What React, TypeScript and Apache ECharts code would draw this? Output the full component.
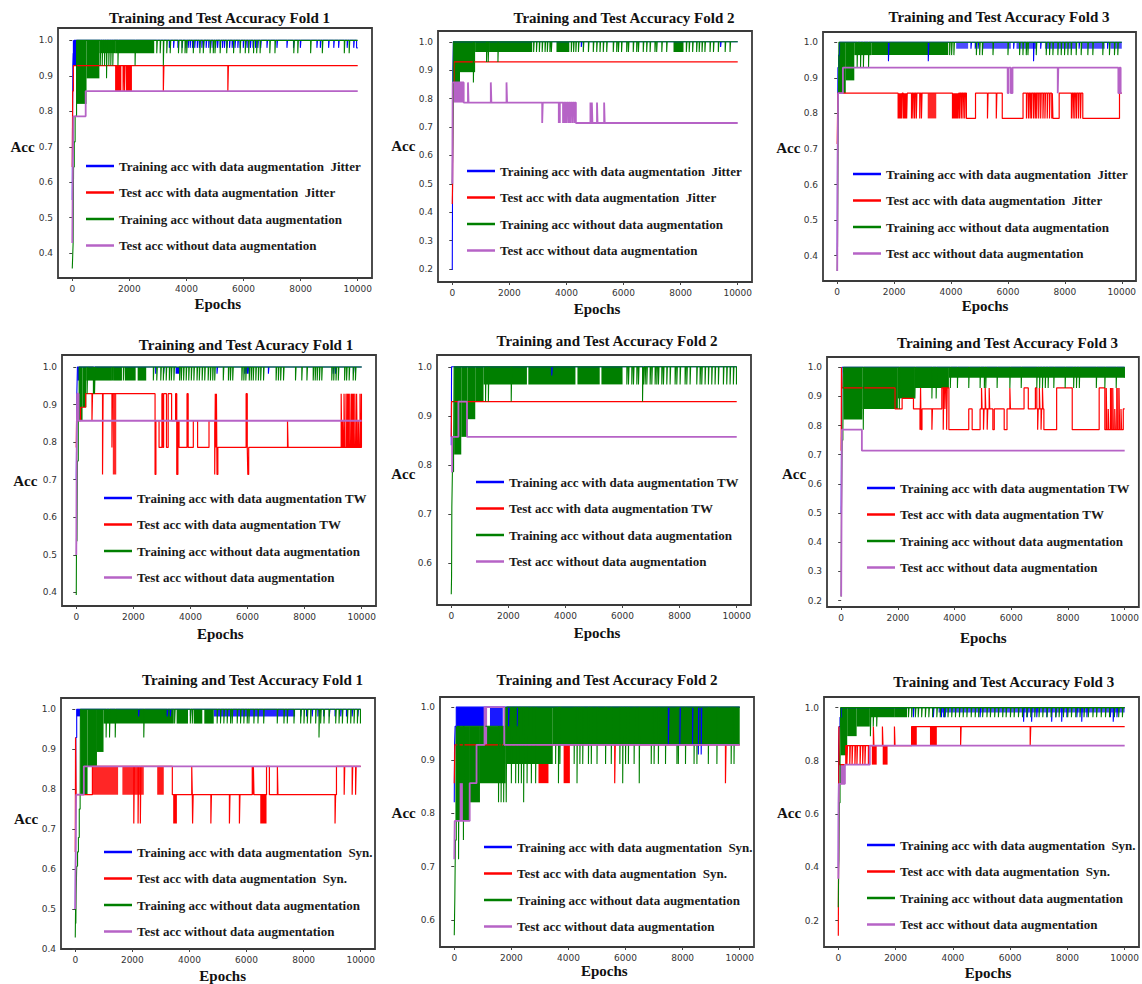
import React, { useEffect, useRef } from "react";
import * as echarts from "echarts";

type Pt = number[];

// ---------------- tick labels & titles ----------------
const X_TICKS = [0, 2000, 4000, 6000, 8000, 10000];
const Y_TICKS_A = [0.4, 0.5, 0.6, 0.7, 0.8, 0.9, 1.0];
const Y_TICKS_B = [0.2, 0.3, 0.4, 0.5, 0.6, 0.7, 0.8, 0.9, 1.0];
const Y_TICKS_C = [0.6, 0.7, 0.8, 0.9, 1.0];
const Y_TICKS_D = [0.2, 0.4, 0.6, 0.8, 1.0];
const Y_TICKS = [Y_TICKS_A, Y_TICKS_B, Y_TICKS_A, Y_TICKS_A, Y_TICKS_C, Y_TICKS_B, Y_TICKS_A, Y_TICKS_C, Y_TICKS_D];
const Y_RANGES = [
  [0.33, 1.035], [0.154, 1.038], [0.329, 1.029],
  [0.364, 1.032], [0.514, 1.024], [0.178, 1.035],
  [0.4, 1.028], [0.549, 1.019], [0.101, 1.04],
];
const X_RANGE = [-500, 10500];

const TITLES = [
  "Training and Test Accuracy Fold 1", "Training and Test Accuracy Fold 2", "Training and Test Accuracy Fold 3",
  "Training and Test Acuracy Fold 1", "Training and Test Accuracy Fold 2", "Training and Test Accuracy Fold 3",
  "Training and Test Accuracy Fold 1", "Training and Test Accuracy Fold 2", "Training and Test Accuracy Fold 3",
];
const X_NAME = "Epochs";
const Y_NAME = "Acc";
const AUG_SUFFIX = ["  Jitter", " TW", "  Syn."];
const LEGEND_BASE = [
  "Training acc with data augmentation",
  "Test acc with data augmentation",
  "Training acc without data augmentation",
  "Test acc without data augmentation",
];

// ---------------- data: steps [epoch, acc], spikes [epoch, acc], bands [x0, x1, lo, hi, density] ----------------
// Panel 1 (Jitter, Fold 1)
const p1BlueSteps = [[0, 0.55], [10, 0.786], [20, 0.929], [35, 0.964], [60, 1.0], [9960, 0.979]];
const p1BlueSpikes = [3400, 3550, 3700, 3850, 3980, 4060, 4130, 4210, 4290, 4380, 4450, 4540, 4600, 4690, 4780, 4850, 4930, 5020, 5090, 5180, 5260, 5330, 5420, 5510, 5600, 5700, 5800, 5880, 5990, 6080, 6150, 6240, 6330, 6420, 6500, 6600, 6820, 7170, 7520, 7750, 7990, 8570, 8690, 8980, 9160, 9330, 9630, 9860].map((x) => [x, 0.979]);
const p1BlueBands = [[20, 200, 0.929, 1.0, 1]];
const p1RedSteps = [[0, 0.643], [15, 0.857], [40, 0.929]];
const p1RedSpikes = [[1780, 0.857], [1830, 0.857], [3190, 0.857], [5450, 0.857]];
const p1RedBands = [[1500, 1720, 0.857, 0.929, 1], [1880, 2090, 0.857, 0.929, 1]];
const p1GreenSteps = [[0, 0.357], [15, 0.393], [30, 0.429], [45, 0.643], [70, 0.714], [100, 0.786], [150, 1.0]];
const p1GreenSpikes = [[980, 0.929], [1050, 0.929], [1130, 0.929], [1200, 0.893], [1280, 0.929], [1350, 0.929], [1420, 0.929], [1600, 0.929], [2200, 0.929], [2960, 0.964], [3080, 0.964], [3190, 0.929], [3310, 0.964], [3430, 0.964], [3720, 0.964], [3840, 0.964], [3950, 0.964], [4010, 0.964], [4240, 0.964], [4470, 0.964], [4590, 0.964], [4830, 0.964], [4940, 0.964], [5000, 0.964], [5180, 0.964], [5410, 0.964], [5650, 0.964], [5880, 0.964], [6060, 0.964], [6180, 0.964], [6350, 0.964], [6460, 0.964], [6580, 0.964], [6920, 0.964], [7100, 0.964], [7760, 0.964], [7900, 0.964], [8350, 0.964], [8760, 0.964], [9530, 0.964], [9700, 0.964]];
const p1GreenBands = [[150, 500, 0.821, 1, 1], [500, 950, 0.893, 1, 1], [950, 1500, 0.964, 1, 1], [1500, 2870, 0.964, 1, 1]];
const p1PurpleSteps = [[0, 0.429], [20, 0.643], [40, 0.786], [470, 0.857]];

// Panel 2 (Jitter, Fold 2)
const p2BlueSteps = [[0, 0.196], [10, 0.5], [20, 0.893], [40, 1.0]];
const p2BlueSpikes = [[4520, 0.982], [9400, 0.982]];
const p2RedSteps = [[0, 0.429], [10, 0.5], [25, 0.857], [60, 0.929]];
const p2GreenSteps = [[0, 0.5], [15, 0.643], [30, 0.786], [40, 1.0]];
const p2GreenSpikes = [[740, 0.857], [1200, 0.929], [1260, 0.929], [1600, 0.929], ...[2850, 2950, 3050, 3150, 3250, 3330, 3420, 3470, 4170, 4250, 4330, 4420, 4590, 4770, 4940, 5060, 5175, 5290, 5410, 5640, 5760, 5820, 5930, 6110, 6170, 6340, 6460, 6520, 6690, 6810, 6930, 7100, 7160, 7340, 7510, 8200, 8300, 8420, 8560, 8650, 8750, 8850, 9030, 9150, 9320, 9560, 9730].map((x) => [x, 0.964])];
const p2GreenBands = [[40, 270, 0.857, 1, 1], [270, 800, 0.893, 1, 1], [800, 1320, 0.964, 1, 1], [1320, 2800, 0.964, 1, 1], [3650, 4100, 0.964, 1, 1], [7750, 8100, 0.964, 1, 1]];
const p2PurpleSteps = [[0, 0.5], [15, 0.857], [400, 0.786], [4330, 0.714]];
const p2PurpleSpikes = [[550, 0.857], [1350, 0.857], [1900, 0.857], [3150, 0.714], [3880, 0.714], [3940, 0.714], [4000, 0.714], [4070, 0.714], [4130, 0.714], [4200, 0.714], [4270, 0.714], [4840, 0.786], [4890, 0.786], [5070, 0.786], [5320, 0.786]];
const p2PurpleBands = [[50, 400, 0.786, 0.857, 1], [3700, 3800, 0.714, 0.786, 1]];

// Panel 3 (Jitter, Fold 3)
const p3BlueSteps = [[0, 0.4], [10, 0.714], [25, 0.929], [50, 0.964], [80, 1.0]];
const p3BlueSpikes = [[1800, 0.947], [3200, 0.947], [6900, 0.947], [4700, 0.982], [4850, 0.982], [4950, 0.982], [6200, 0.982], [7150, 0.982], [8500, 0.982], [9500, 0.982]];
const p3BlueBands = [[4180, 4600, 0.982, 1, 0.7], [5100, 6100, 0.982, 1, 0.7], [6300, 7000, 0.982, 1, 0.7], [7300, 8400, 0.982, 1, 0.7], [8600, 9400, 0.982, 1, 0.7], [9600, 10000, 0.982, 1, 0.7]];
const p3RedSteps = [[0, 0.714], [20, 0.857], [4540, 0.786], [4860, 0.857], [5800, 0.786], [6530, 0.857], [7580, 0.786], [7800, 0.857], [8630, 0.786], [9920, 0.857]];
const p3RedSpikes = [2140, 2180, 2220, 2260, 2320, 2360, 2400, 2440, 2610, 2660, 2720, 2780, 2900, 2960, 4050, 4090, 4130, 4170, 4210, 4250, 4300, 4360, 4420, 4480, 5280, 5590, 6650, 6720, 6780, 6830, 6900, 6960, 7010, 7080, 7150, 7230, 7300, 7380, 7460, 7540, 8230, 8290, 8350, 8410, 8480, 8550].map((x) => [x, 0.786]);
const p3RedBands = [[3180, 3480, 0.786, 0.857, 0.85]];
const p3GreenSteps = [[0, 0.357], [10, 0.429], [25, 0.643], [40, 0.821], [60, 1.0]];
const p3GreenSpikes = [[700, 0.929], [820, 0.929], [920, 0.929], [1100, 0.929], ...[3950, 4020, 4100, 4890, 5006, 5100, 5474, 6000, 6409, 6526, 6643, 6702, 6994, 7345, 7462, 7579, 7754, 7871, 7988, 8105, 8222, 8398, 8573, 8807, 8982, 9333, 9567, 9743, 9860].map((x) => [x, 0.964])];
const p3GreenBands = [[60, 300, 0.857, 1, 1], [300, 600, 0.893, 1, 1], [600, 1200, 0.964, 1, 1], [1200, 3900, 0.964, 1, 1]];
const p3PurpleSteps = [[0, 0.357], [15, 0.643], [30, 0.857], [200, 0.929], [5990, 0.857], [6020, 0.929], [6100, 0.857], [6160, 0.929], [9880, 0.857], [9920, 0.929], [9960, 0.857]];
const p3PurpleSpikes = [[7750, 0.857]];

// Panel 4 (TW, Fold 1)
const p4BlueSteps = [[0, 0.7], [10, 0.786], [20, 0.929], [40, 1.0]];
const p4BlueSpikes = [2780, 3060, 3500, 3540, 3580, 4930, 5900, 5950, 6000, 6050, 6730, 9000, 9080, 9710].map((x) => [x, 0.982]);
const p4BlueBands = [[40, 120, 0.964, 1, 1]];
const p4RedSteps = [[0, 0.786], [10, 0.857], [150, 0.893], [330, 0.929], [2760, 0.714], [2790, 0.857], [2900, 0.786], [3000, 0.929], [3030, 0.786], [3060, 0.929], [3160, 0.786], [3220, 0.929], [3340, 0.857], [3480, 0.929], [3520, 0.714], [3560, 0.857], [3600, 0.786], [3880, 0.929], [3920, 0.786], [4100, 0.857], [4250, 0.786], [4650, 0.857], [4850, 0.714], [4870, 0.929], [4890, 0.786], [4910, 0.929], [4930, 0.714], [4960, 0.786], [5950, 0.929], [5990, 0.786], [6010, 0.714], [6040, 0.786], [7400, 0.857], [7420, 0.786], [9990, 0.929]];
const p4RedSpikes = [[550, 0.857], [920, 0.714], [1250, 0.786], [9280, 0.929], [9330, 0.857], [9380, 0.929], [9450, 0.929], [9520, 0.857], [9580, 0.929], [9640, 0.929], [9700, 0.857], [9760, 0.929], [9820, 0.929], [9880, 0.857], [9940, 0.929]];
const p4RedBands = [[1280, 1400, 0.714, 0.929, 0.85], [9470, 9560, 0.786, 0.929, 1], [9650, 9740, 0.786, 0.929, 1]];
const p4GreenSteps = [[0, 0.393], [10, 0.571], [25, 0.536], [40, 0.75], [70, 0.857], [100, 1.0]];
const p4GreenSpikes = [[380, 0.929], [600, 0.929], [640, 0.929], ...[1270, 1650, 2700, 2820, 2960, 3050, 3150, 3260, 3330, 3420, 3620, 3680, 3760, 3850, 3940, 4030, 4120, 4230, 4310, 4410, 4500, 4620, 4700, 4780, 4850, 5150, 5330, 5400, 5480, 5800, 5870, 5940, 6060, 6130, 6200, 6290, 6380, 6460, 6560, 7000, 7080, 7160, 7260, 7680, 7900, 8080, 8300, 8370, 8440, 8520, 8600, 8950, 9020, 9100, 9180, 9400, 9470, 9560, 9700, 9780].map((x) => [x, 0.964])];
const p4GreenBands = [[100, 220, 0.857, 1, 1], [220, 350, 0.893, 1, 1], [350, 650, 0.964, 1, 1], [650, 1250, 0.964, 1, 1], [1290, 1600, 0.964, 1, 1], [1700, 2080, 0.964, 1, 1], [2150, 2450, 0.964, 1, 1]];
const p4PurpleSteps = [[0, 0.5], [15, 0.786], [30, 0.929], [80, 0.857]];

// Panel 5 (TW, Fold 2)
const p5BlueSteps = [[0, 0.84], [10, 1.0]];
const p5BlueSpikes = [[3520, 0.982]];
const p5RedSteps = [[0, 0.857], [10, 0.929]];
const p5GreenSteps = [[0, 0.536], [10, 0.571], [20, 0.714], [40, 0.786], [80, 0.821], [100, 1.0], [9990, 0.964]];
const p5GreenSpikes = [[1200, 0.929], [1300, 0.929], [2100, 0.929], [6700, 0.929], ...[6150, 6208, 6324, 6383, 6500, 6558, 6733, 6791, 6850, 6966, 7025, 7141, 7200, 7258, 7375, 7433, 7550, 7666, 7841, 7900, 8016, 8191, 8250, 8366, 8600, 8716, 8775, 8891, 9008, 9125, 9241, 9358, 9533, 9650, 9767, 9883].map((x) => [x, 0.964])];
const p5GreenBands = [[100, 350, 0.821, 1, 1], [350, 570, 0.857, 1, 1], [570, 840, 0.893, 1, 1], [840, 1130, 0.929, 1, 1], [1130, 2650, 0.964, 1, 1], [2700, 4350, 0.964, 1, 1], [4420, 5200, 0.964, 1, 1], [5260, 6000, 0.964, 1, 1]];
const p5PurpleSteps = [[0, 0.786], [30, 0.857], [250, 0.929], [550, 0.857]];

// Panel 6 (TW, Fold 3)
const p6BlueSteps = [[0, 0.5], [10, 0.714], [25, 1.0]];
const p6BlueBands = [[60, 300, 0.982, 1, 1]];
const p6RedSteps = [[0, 0.714], [10, 1.0], [30, 0.929], [1900, 0.857], [2150, 0.893], [2550, 0.857], [2780, 0.786], [2850, 0.857], [3550, 0.929], [3800, 0.786], [4500, 0.857], [4620, 0.786], [4900, 0.857], [5350, 0.786], [5400, 0.857], [5750, 0.786], [5850, 0.857], [6450, 0.929], [6600, 0.857], [6850, 0.929], [6900, 0.857], [7150, 0.786], [7600, 0.929], [8150, 0.786], [9100, 0.929], [9300, 0.786], [9950, 0.857]];
const p6RedSpikes = [[2800, 0.929], [3200, 0.786], [5950, 0.929], [3600, 0.786], [3660, 0.857], [3720, 0.786], [4950, 0.929], [5020, 0.786], [5080, 0.929], [5150, 0.786], [5220, 0.929], [6930, 0.786], [6990, 0.929], [7050, 0.786], [7100, 0.929], [9350, 0.929], [9420, 0.857], [9500, 0.929], [9580, 0.929], [9650, 0.857], [9720, 0.929], [9800, 0.929], [9870, 0.857]];
const p6RedBands = [[9520, 9560, 0.786, 0.929, 1], [9740, 9780, 0.786, 0.929, 1]];
const p6GreenSteps = [[0, 0.214], [10, 0.5], [20, 0.607], [35, 0.75], [60, 0.786], [80, 1.0], [9990, 0.964]];
const p6GreenSpikes = [[780, 0.786], [2050, 0.857], [2600, 0.893], [3200, 0.893], [3350, 0.893], ...[3850, 4100, 4500, 4900, 5050, 5100, 5500, 5950, 6350, 6900, 7000, 7100, 7200, 7300, 7500, 7900, 8200, 8300, 8400, 9000, 9300, 9700].map((x) => [x, 0.929])];
const p6GreenBands = [[80, 750, 0.821, 1, 1], [750, 2000, 0.857, 1, 1], [2000, 2600, 0.893, 1, 1], [2600, 3800, 0.929, 1, 1], [3800, 10000, 0.964, 1, 1]];
const p6PurpleSteps = [[0, 0.214], [10, 0.429], [25, 0.786], [730, 0.714]];

// Panel 7 (Syn., Fold 1)
const p7BlueSteps = [[0, 0.5], [10, 0.643], [20, 0.929], [50, 1.0]];
const p7BlueSpikes = [2220, 3220, 3330, 4035, 7900, 8100, 8300, 8500, 8700, 8900, 9100, 9300, 9500, 9700, 9900].map((x) => [x, 0.982]);
const p7BlueBands = [[50, 200, 0.982, 1, 1], [4850, 7700, 0.982, 1, 0.85]];
const p7RedSteps = [[0, 0.643], [10, 0.929], [30, 0.786], [600, 0.857], [3400, 0.786], [6700, 0.857], [6800, 0.786], [9150, 0.857]];
const p7RedSpikes = [[2050, 0.714], [2200, 0.714], [2280, 0.714], [4080, 0.857], [4110, 0.714], [4750, 0.714], [5400, 0.714], [5750, 0.714], [6200, 0.857], [6240, 0.857], [7080, 0.857], [9100, 0.714], [9420, 0.786], [9700, 0.786], [9820, 0.786]];
const p7RedBands = [[600, 1500, 0.786, 0.857, 0.85], [1650, 2400, 0.786, 0.857, 0.85], [2870, 3100, 0.786, 0.857, 0.9], [3430, 3560, 0.714, 0.786, 1], [6480, 6700, 0.714, 0.786, 1]];
const p7GreenSteps = [[0, 0.429], [10, 0.5], [20, 0.464], [30, 0.536], [50, 0.607], [80, 0.643], [110, 0.679], [140, 0.75], [170, 0.786], [180, 1.0], [9990, 0.964]];
const p7GreenSpikes = [[1080, 0.929], [1200, 0.929], [1400, 0.929], [2400, 0.929], [8538, 0.929], ...[3480, 4030, 4100, 4970, 5088, 5205, 5322, 5439, 5497, 5673, 5790, 5906, 6023, 6082, 6257, 6400, 6600, 7076, 7310, 7427, 7661, 7895, 8012, 8129, 8246, 8421, 8596, 8713, 8889, 9123, 9240, 9357, 9532, 9649, 9766, 9883].map((x) => [x, 0.964])];
const p7GreenBands = [[180, 430, 0.786, 1, 1], [430, 760, 0.857, 1, 1], [760, 990, 0.893, 1, 1], [990, 1400, 0.964, 1, 1], [1400, 3450, 0.964, 1, 1], [3550, 3950, 0.964, 1, 1], [4150, 4450, 0.964, 1, 1], [4520, 4850, 0.964, 1, 1]];
const p7PurpleSteps = [[0, 0.5], [15, 0.643], [30, 0.786], [300, 0.857]];

// Panel 8 (Syn., Fold 2)
const p8BlueSteps = [[0, 0.821], [10, 0.929], [30, 0.964], [70, 1.0]];
const p8BlueSpikes = [[1900, 0.964], [2200, 0.964], [7500, 0.929], [7900, 0.929], [8350, 0.929], [8550, 0.911], [8650, 0.911]];
const p8BlueBands = [[70, 1050, 0.964, 1, 1], [1250, 1700, 0.964, 1, 0.9]];
const p8RedSteps = [[0, 0.857], [20, 0.929]];
const p8RedSpikes = [[5620, 0.857], [9500, 0.857]];
const p8RedBands = [[2950, 3300, 0.857, 0.929, 1], [3830, 4050, 0.857, 0.929, 1]];
const p8GreenSteps = [[0, 0.571], [10, 0.607], [20, 0.643], [40, 0.75], [70, 0.786], [100, 0.964], [1800, 1.0]];
const p8GreenSpikes = [[150, 0.714], [320, 0.75], [1550, 0.821], [1640, 0.821], [1730, 0.821], [1820, 0.821], [2000, 0.857], [2150, 0.857], [2250, 0.857], [2350, 0.857], [2430, 0.821], [2550, 0.857], [2700, 0.857], [2850, 0.857], [3550, 0.893], [3650, 0.857], [3700, 0.893], [4200, 0.893], [4300, 0.857], [4400, 0.893], [4500, 0.893], [4700, 0.893], [4800, 0.893], [5000, 0.893], [5300, 0.893], [5500, 0.893], [5800, 0.893], [5900, 0.857], [6000, 0.893], [6100, 0.893], [6300, 0.893], [6480, 0.857], [6900, 0.893], [7000, 0.893], [7150, 0.893], [7400, 0.893], [7800, 0.893], [7850, 0.893], [8100, 0.893], [8400, 0.893], [8500, 0.893], [8900, 0.893], [9200, 0.893], [9700, 0.893], [9800, 0.893]];
const p8GreenBands = [[40, 550, 0.786, 0.964, 1], [550, 900, 0.821, 0.964, 1], [900, 1800, 0.857, 0.964, 1], [1800, 3450, 0.893, 1, 1], [3450, 10000, 0.929, 1, 1]];
const p8PurpleSteps = [[0, 0.714], [15, 0.786], [540, 0.857], [780, 0.929], [1060, 1.0], [1750, 0.929]];
const p8PurpleBands = [[180, 330, 0.786, 0.857, 1], [1050, 1150, 0.929, 1.0, 1]];

// Panel 9 (Syn., Fold 3)
const p9BlueSteps = [[0, 0.4], [10, 0.857], [30, 0.929], [60, 0.964], [100, 1.0]];
const p9BlueSpikes = [[2620, 0.964], [3320, 0.964], [3600, 0.964], [3680, 0.964], [3730, 0.964], [4950, 0.964], [6470, 0.947], [6600, 0.964], [6750, 0.947], [6930, 0.964], [7280, 0.964], [7450, 0.947], [7600, 0.964], [7800, 0.947], [7980, 0.964], [8330, 0.964], [8500, 0.947], [8680, 0.964], [9500, 0.964], [9600, 0.947], [9730, 0.964]];
const p9BlueBands = [[3500, 10000, 0.982, 1, 0.7]];
const p9RedSteps = [[0, 0.143], [10, 0.5], [20, 0.929], [40, 0.786], [260, 0.857], [2560, 0.929]];
const p9RedSpikes = [[300, 0.786], [400, 0.786], [480, 0.786], [580, 0.786], [650, 0.786], [760, 0.786], [850, 0.786], [930, 0.786], [1050, 0.786], [1224, 0.929], [1540, 0.929], [1960, 0.929], [4270, 0.857], [6700, 0.857]];
const p9RedBands = [[1170, 1340, 0.786, 0.857, 1], [1550, 1720, 0.786, 0.857, 1], [2560, 2740, 0.857, 0.929, 1], [3200, 3440, 0.857, 0.929, 1]];
const p9GreenSteps = [[0, 0.25], [10, 0.393], [20, 0.429], [35, 0.643], [60, 0.786], [80, 1.0]];
const p9GreenSpikes = [[1120, 0.893], [1220, 0.929], [1340, 0.929], ...[2450, 2560, 2690, 2790, 2910, 3040, 3160, 3290, 3440, 3560, 3710, 3830, 3960, 4090, 4230, 4360, 4490, 4640, 4780, 4900, 5040, 5190, 5310, 5460, 5590, 5740, 5860, 6010, 6140, 6290, 6430, 6580, 6720, 6860, 7010, 7140, 7290, 7430, 7590, 7710, 7860, 8010, 8140, 8290, 8440, 8580, 8730, 8890, 9020, 9180, 9330, 9470, 9640, 9790, 9920].map((x) => [x, 0.964])];
const p9GreenBands = [[80, 310, 0.821, 1, 1], [310, 640, 0.893, 1, 1], [640, 1100, 0.929, 1, 1], [1100, 1950, 0.964, 1, 1], [1950, 2400, 0.964, 1, 1]];
const p9PurpleSteps = [[0, 0.357], [10, 0.643], [20, 0.714], [230, 0.786], [1100, 0.857]];
const p9PurpleBands = [[60, 230, 0.714, 0.786, 1]];

// [steps, spikes, bands] per series (blue, red, green, purple) per panel
const PANELS: Pt[][][][] = [
  [[p1BlueSteps, p1BlueSpikes, p1BlueBands], [p1RedSteps, p1RedSpikes, p1RedBands], [p1GreenSteps, p1GreenSpikes, p1GreenBands], [p1PurpleSteps, [], []]],
  [[p2BlueSteps, p2BlueSpikes, []], [p2RedSteps, [], []], [p2GreenSteps, p2GreenSpikes, p2GreenBands], [p2PurpleSteps, p2PurpleSpikes, p2PurpleBands]],
  [[p3BlueSteps, p3BlueSpikes, p3BlueBands], [p3RedSteps, p3RedSpikes, p3RedBands], [p3GreenSteps, p3GreenSpikes, p3GreenBands], [p3PurpleSteps, p3PurpleSpikes, []]],
  [[p4BlueSteps, p4BlueSpikes, p4BlueBands], [p4RedSteps, p4RedSpikes, p4RedBands], [p4GreenSteps, p4GreenSpikes, p4GreenBands], [p4PurpleSteps, [], []]],
  [[p5BlueSteps, p5BlueSpikes, []], [p5RedSteps, [], []], [p5GreenSteps, p5GreenSpikes, p5GreenBands], [p5PurpleSteps, [], []]],
  [[p6BlueSteps, [], p6BlueBands], [p6RedSteps, p6RedSpikes, p6RedBands], [p6GreenSteps, p6GreenSpikes, p6GreenBands], [p6PurpleSteps, [], []]],
  [[p7BlueSteps, p7BlueSpikes, p7BlueBands], [p7RedSteps, p7RedSpikes, p7RedBands], [p7GreenSteps, p7GreenSpikes, p7GreenBands], [p7PurpleSteps, [], []]],
  [[p8BlueSteps, p8BlueSpikes, p8BlueBands], [p8RedSteps, p8RedSpikes, p8RedBands], [p8GreenSteps, p8GreenSpikes, p8GreenBands], [p8PurpleSteps, [], p8PurpleBands]],
  [[p9BlueSteps, p9BlueSpikes, p9BlueBands], [p9RedSteps, p9RedSpikes, p9RedBands], [p9GreenSteps, p9GreenSpikes, p9GreenBands], [p9PurpleSteps, [], p9PurpleBands]],
];

// ---------------- layout & style ----------------
const GRID_BOXES = [
  [58, 28, 314, 250], [438, 31, 314, 251], [823, 32, 313, 249],
  [62, 355, 314, 251], [437, 355, 314, 250], [827, 357, 313, 250],
  [61, 698, 314, 251], [440, 697, 314, 250], [824, 697, 315, 250],
];
const LEGEND_POS = [
  [86, 159.5], [467, 164.5], [853, 167.5],
  [104, 491.5], [476, 475.5], [867, 481.5],
  [104, 845.5], [484, 840.5], [867, 838.5],
];
const TITLE_POS = [[219.5, 18.3], [624, 18], [999, 16.7], [246, 345], [607, 340.7], [1007.5, 342.7], [252.5, 680], [607, 680], [1003.7, 682.3]];
const YNAME_POS = [[22.5, 146.7], [403.3, 146], [788.3, 147.5], [25.3, 480.7], [403.3, 474], [794, 474], [26, 819], [403.7, 813], [789, 813]];
const XNAME_POS = [[217.8, 304], [597, 309], [985, 305.8], [220.3, 634], [597, 633], [983.3, 637.8], [222.7, 975.8], [604.3, 970.8], [988, 972.5]];
const SERIES_COLORS = ["#0000ff", "#ff0000", "#007f00", "#b663c6"];
const SERIES_WIDTHS = [1.1, 1.2, 1.1, 1.8];
const SERIF = "'Liberation Serif', 'Times New Roman', serif";
const SPIKE_W = 20;

function buildLine(steps: Pt[], spikes: Pt[]) {
  const levelAt = (x: number) => {
    let v = steps[0][1];
    for (const s of steps) if (s[0] <= x) v = s[1];
    return v;
  };
  const pts: Pt[] = steps.map((p) => [p[0], p[1]]);
  for (const [x, y] of spikes) {
    pts.push([x, y]);
    pts.push([x + SPIKE_W, levelAt(x)]);
  }
  pts.sort((a, b) => a[0] - b[0]);
  if (pts[pts.length - 1][0] < 10000) pts.push([10000, levelAt(10000)]);
  return pts;
}

function bandSeries(i: number, s: number, bands: Pt[]) {
  const color = SERIES_COLORS[s];
  return {
    type: "custom",
    name: `band-${i}-${s}`,
    xAxisIndex: i,
    yAxisIndex: i,
    silent: true,
    data: bands,
    encode: { x: [0, 1], y: [2, 3] },
    renderItem: (_params: any, api: any) => {
      const a = api.coord([api.value(0), api.value(3)]);
      const b = api.coord([api.value(1), api.value(2)]);
      return {
        type: "rect",
        shape: { x: a[0], y: a[1], width: b[0] - a[0], height: b[1] - a[1] },
        style: { fill: color, opacity: api.value(4) },
      };
    },
  };
}

function buildOption() {
  const grid: any[] = [];
  const xAxis: any[] = [];
  const yAxis: any[] = [];
  const series: any[] = [];
  const legend: any[] = [];
  const graphic: any[] = [];

  for (let i = 0; i < 9; i++) {
    const row = Math.floor(i / 3);
    const [left, top, width, height] = GRID_BOXES[i];
    grid.push({ left, top, width, height, show: true, borderColor: "#3a3a3a", borderWidth: 1.8, backgroundColor: "transparent" });
    const labelStyle = { fontSize: 9, color: "#333", fontFamily: "'DejaVu Sans', sans-serif" };
    xAxis.push({
      type: "value", gridIndex: i, min: X_RANGE[0], max: X_RANGE[1],
      axisLine: { show: false }, splitLine: { show: false },
      axisTick: { show: true, length: 3, lineStyle: { color: "#444" }, customValues: X_TICKS },
      axisLabel: { ...labelStyle, margin: 6, customValues: X_TICKS, formatter: (v: number) => String(Math.round(v)) },
    });
    yAxis.push({
      type: "value", gridIndex: i, min: Y_RANGES[i][0], max: Y_RANGES[i][1],
      axisLine: { show: false }, splitLine: { show: false },
      axisTick: { show: true, length: 3, lineStyle: { color: "#444" }, customValues: Y_TICKS[i] },
      axisLabel: { ...labelStyle, margin: 5, customValues: Y_TICKS[i], formatter: (v: number) => v.toFixed(1) },
    });

    const names = LEGEND_BASE.map((b, k) => (k < 2 ? b + AUG_SUFFIX[row] : b));
    for (let s = 0; s < 4; s++) {
      const [steps, spikes, bands] = PANELS[i][s];
      const line = {
        type: "line", name: names[s], xAxisIndex: i, yAxisIndex: i,
        data: buildLine(steps, spikes), step: "end", symbol: "none", showSymbol: false,
        lineStyle: { width: SERIES_WIDTHS[s], color: SERIES_COLORS[s] },
        itemStyle: { color: SERIES_COLORS[s] }, silent: true,
      };
      const hasBands = bands && bands.length > 0;
      if (s === 2 && hasBands) series.push(bandSeries(i, s, bands));
      series.push(line);
      if (s !== 2 && hasBands) series.push(bandSeries(i, s, bands));
    }

    legend.push({
      data: names, orient: "vertical", left: LEGEND_POS[i][0], top: LEGEND_POS[i][1],
      padding: 0, itemGap: 13.5, itemWidth: 28, itemHeight: 2.5, icon: "rect", selectedMode: false,
      textStyle: { fontFamily: SERIF, fontWeight: "bold", fontSize: 13, color: "#1a1a1a" },
    });

    const textEl = (pos: number[], text: string, size: number) => ({
      type: "text", x: pos[0], y: pos[1], silent: true,
      style: { text, fill: "#111", fontFamily: SERIF, fontWeight: "bold", fontSize: size, align: "center", verticalAlign: "middle" },
    });
    graphic.push(textEl(TITLE_POS[i], TITLES[i], 15));
    graphic.push(textEl(YNAME_POS[i], Y_NAME, 15));
    graphic.push(textEl(XNAME_POS[i], X_NAME, 15));
  }

  return { animation: false, backgroundColor: "#ffffff", grid, xAxis, yAxis, series, legend, graphic };
}

export default function App() {
  const ref = useRef<HTMLDivElement>(null);
  useEffect(() => {
    document.body.style.margin = "0";
    const chart = echarts.init(ref.current as HTMLDivElement, undefined, { renderer: "svg" });
    chart.setOption(buildOption() as any);
    return () => chart.dispose();
  }, []);
  return <div ref={ref} style={{ width: 1142, height: 984, background: "#fff" }} />;
}
